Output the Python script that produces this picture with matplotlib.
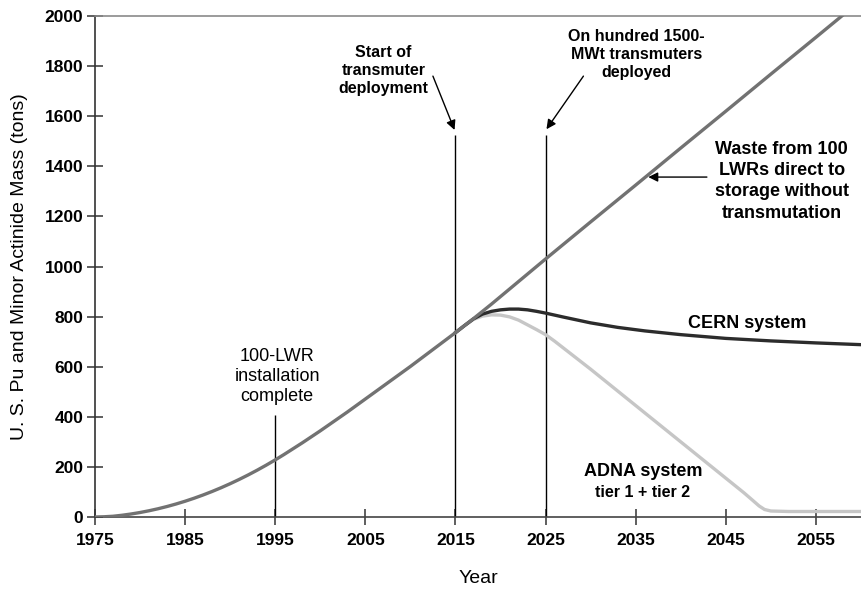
import numpy as np
import matplotlib.pyplot as plt

plt.rcParams['font.family'] = ['Liberation Sans', 'DejaVu Sans']

# waste from 100 LWRs sent straight to storage
waste_years = list(range(1975, 2026)) + [2030, 2035, 2040, 2045, 2050, 2055, 2060]
waste_mass = [0, 1, 3, 7, 12, 18, 25, 33, 42, 52,
              63, 75, 88, 102, 117, 133, 150, 168, 187, 207,
              228, 250, 273, 296, 320, 344, 369, 394, 419, 445,
              471, 497, 523, 549, 575, 601, 628, 655, 682, 709,
              736, 764, 792, 821, 850, 880, 910, 940, 970, 1000,
              1030, 1178, 1325, 1473, 1620, 1768, 1915, 2063]

# CERN system
cern_years = [2015, 2016, 2017, 2018, 2019, 2020, 2021, 2022, 2023, 2024, 2025,
              2027, 2030, 2033, 2036, 2040, 2045, 2050, 2055, 2060]
cern_mass = [736, 764, 791, 810, 821, 827, 830, 830, 827, 821, 814,
             798, 775, 757, 743, 728, 713, 703, 695, 688]

# ADNA system, tier 1 + tier 2
adna_years = [2015, 2016, 2017, 2018, 2019, 2020, 2021, 2022, 2023, 2024, 2025,
              2026, 2030, 2035, 2040, 2045, 2047, 2048, 2048.7, 2049.3, 2050, 2052, 2060]
adna_mass = [736, 764, 789, 802, 807, 806, 799, 786, 767, 748, 728,
             702, 590, 445, 300, 155, 97, 66, 44, 30, 24, 22, 22]

# marker lines: (year, top of line)
marker_years = [1995, 2015, 2025]
marker_tops = [407, 1525, 1525]

xticks = [1975, 1985, 1995, 2005, 2015, 2025, 2035, 2045, 2055]
yticks = np.arange(0, 2001, 200)

fig = plt.figure(figsize=(8.61, 5.90), dpi=100)
ax = fig.add_axes([0.1103, 0.1237, 0.8897, 0.8492])

ax.vlines(marker_years, 0, marker_tops, color='black', lw=1.0, zorder=2)

# waste line on top so the two systems branch off from under it
ax.plot(adna_years, adna_mass, color='#c6c6c6', lw=2.4, zorder=3)
ax.plot(cern_years, cern_mass, color='#2c2c2c', lw=2.4, zorder=4)
ax.plot(waste_years, waste_mass, color='#727272', lw=2.4, zorder=5)

ax.set_xlim(1975, 2060)
ax.set_ylim(0, 2000)
ax.set_xticks(xticks)
ax.set_yticks(yticks)
ax.tick_params(axis='both', direction='inout', length=11, width=1.1,
               colors='#333333', labelcolor='black', labelsize=12.5)
ax.tick_params(axis='x', pad=6)
ax.tick_params(axis='y', pad=3)
for lab in ax.get_xticklabels() + ax.get_yticklabels():
    lab.set_fontweight('bold')

ax.spines['right'].set_visible(False)
ax.spines['top'].set_color('#8a8a8a')
ax.spines['top'].set_linewidth(1.2)
ax.spines['left'].set_color('#333333')
ax.spines['left'].set_linewidth(1.2)
ax.spines['bottom'].set_color('#444444')
ax.spines['bottom'].set_linewidth(1.2)

ax.set_xlabel('Year', fontsize=14, labelpad=16)
ax.set_ylabel('U. S. Pu and Minor Actinide Mass (tons)', fontsize=14,
              labelpad=12)

arrow = dict(arrowstyle='-|>', color='black', lw=1.0,
             mutation_scale=14, shrinkA=0, shrinkB=0)

ax.text(2007.0, 1784, 'Start of\ntransmuter\ndeployment', ha='center',
        va='center', fontsize=11.5, fontweight='bold', linespacing=1.25)
ax.annotate('', xy=(2014.9, 1545), xytext=(2012.5, 1760), arrowprops=arrow)

ax.text(2035.1, 1848, 'On hundred 1500-\nMWt transmuters\ndeployed',
        ha='center', va='center', fontsize=11.5, fontweight='bold',
        linespacing=1.25)
ax.annotate('', xy=(2025.1, 1548), xytext=(2029.2, 1760), arrowprops=arrow)

ax.text(2051.2, 1340, 'Waste from 100\nLWRs direct to\nstorage without\ntransmutation',
        ha='center', va='center', fontsize=13, fontweight='bold',
        linespacing=1.33)
ax.annotate('', xy=(2036.4, 1357), xytext=(2042.9, 1357), arrowprops=arrow)

ax.text(2047.4, 774, 'CERN system', ha='center', va='center',
        fontsize=13, fontweight='bold')
ax.text(2035.8, 182, 'ADNA system', ha='center', va='center',
        fontsize=13, fontweight='bold')
ax.text(2035.8, 96, 'tier 1 + tier 2', ha='center', va='center',
        fontsize=11.5, fontweight='bold')

ax.text(1995.2, 560, '100-LWR\ninstallation\ncomplete', ha='center',
        va='center', fontsize=13, linespacing=1.25)

fig.savefig('out.png', dpi=100)
